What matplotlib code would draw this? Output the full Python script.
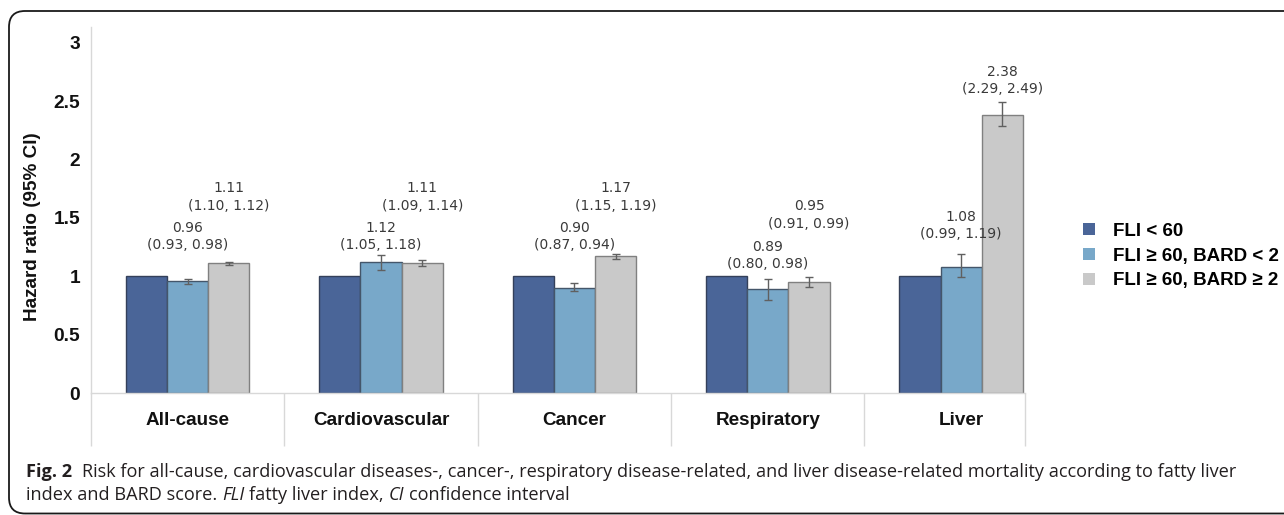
import matplotlib
matplotlib.use("Agg")
import matplotlib.pyplot as plt
import numpy as np
from matplotlib.patches import FancyBboxPatch, Patch
from matplotlib.transforms import IdentityTransform

CAUSES = ["All-cause", "Cardiovascular", "Cancer", "Respiratory", "Liver"]
GROUPS = ["FLI < 60", "FLI \u2265 60, BARD < 2", "FLI \u2265 60, BARD \u2265 2"]

# reference group
REF_HR = [1.00, 1.00, 1.00, 1.00, 1.00]

# FLI >= 60, BARD < 2
LOW_BARD_HR = [0.96, 1.12, 0.90, 0.89, 1.08]
LOW_BARD_LO = [0.93, 1.05, 0.87, 0.80, 0.99]
LOW_BARD_HI = [0.98, 1.18, 0.94, 0.98, 1.19]

# FLI >= 60, BARD >= 2
HIGH_BARD_HR = [1.11, 1.11, 1.17, 0.95, 2.38]
HIGH_BARD_LO = [1.10, 1.09, 1.15, 0.91, 2.29]
HIGH_BARD_HI = [1.12, 1.14, 1.19, 0.99, 2.49]

YTICKS = [0, 0.5, 1, 1.5, 2, 2.5, 3]
YTICK_LABELS = ["0", "0.5", "1", "1.5", "2", "2.5", "3"]

COLORS = ["#4a6598", "#78a8c9", "#c9c9c9"]
EDGES = ["#34405a", "#44566a", "#808080"]
AXIS_GREY = "#d8d8d8"

# where the value labels sit (HR units)
LOW_LABEL_Y = [1.34, 1.34, 1.34, 1.18, 1.435]
HIGH_LABEL_Y = [1.68, 1.68, 1.68, 1.525, 2.68]

W, H = 1284, 515
XMAX = 4.33

CAPTION_1 = ("Risk for all-cause, cardiovascular diseases-, cancer-, respiratory "
             "disease-related, and liver disease-related mortality according to fatty liver")


def ci_text(hr, lo, hi):
    return f"{hr:.2f}\n({lo:.2f}, {hi:.2f})"


def draw_runs(fig, x, y, runs, **kw):
    # lay out text pieces with different styles along one baseline
    r = fig.canvas.get_renderer()
    probe = fig.text(0, 0, "a a", fontsize=kw.get("fontsize"), family=kw.get("family"))
    probe2 = fig.text(0, 0, "aa", fontsize=kw.get("fontsize"), family=kw.get("family"))
    space = probe.get_window_extent(r).width - probe2.get_window_extent(r).width
    probe.remove()
    probe2.remove()
    for s, style, gap in runs:
        t = fig.text(x, y, s, transform=IdentityTransform(), va="baseline",
                     ha="left", **style, **kw)
        x += t.get_window_extent(r).width + gap * space


fig = plt.figure(figsize=(W / 100, H / 100), dpi=100)
ax = fig.add_axes([91 / W, (H - 393) / H, (1025 - 91) / W, (393 - 27) / H])

x = np.arange(len(CAUSES))
w = 0.213

ax.bar(x - w, REF_HR, w, color=COLORS[0], edgecolor=EDGES[0], linewidth=1)

low = np.array(LOW_BARD_HR)
ax.bar(x, low, w, color=COLORS[1], edgecolor=EDGES[1], linewidth=1,
       yerr=[low - np.array(LOW_BARD_LO), np.array(LOW_BARD_HI) - low],
       error_kw=dict(ecolor="#606060", elinewidth=1, capsize=3, capthick=1))

high = np.array(HIGH_BARD_HR)
ax.bar(x + w, high, w, color=COLORS[2], edgecolor=EDGES[2], linewidth=1,
       yerr=[high - np.array(HIGH_BARD_LO), np.array(HIGH_BARD_HI) - high],
       error_kw=dict(ecolor="#606060", elinewidth=1, capsize=3, capthick=1))

for i in range(len(CAUSES)):
    ax.text(x[i], LOW_LABEL_Y[i], ci_text(LOW_BARD_HR[i], LOW_BARD_LO[i], LOW_BARD_HI[i]),
            ha="center", va="center", fontsize=10, color="#3a3a3a", linespacing=1.3)
    ax.text(x[i] + w, HIGH_LABEL_Y[i], ci_text(HIGH_BARD_HR[i], HIGH_BARD_LO[i], HIGH_BARD_HI[i]),
            ha="center", va="center", fontsize=10, color="#3a3a3a", linespacing=1.3)

ax.set_xlim(-0.5, XMAX)
ax.set_ylim(0, 3.136)

for side in ["top", "right"]:
    ax.spines[side].set_visible(False)
for side in ["left", "bottom"]:
    ax.spines[side].set_color(AXIS_GREY)
    ax.spines[side].set_linewidth(1)

ax.set_yticks(YTICKS, labels=YTICK_LABELS)
ax.tick_params(axis="y", length=0, pad=8, labelsize=13.8)

ax.set_xticks(x, labels=CAUSES)
ax.set_xticks(list(np.arange(-0.5, len(CAUSES) - 1)) + [XMAX], minor=True)
ax.tick_params(axis="x", which="major", length=0, pad=14, labelsize=13.6)
ax.tick_params(axis="x", which="minor", length=38, width=1, color=AXIS_GREY)

for lab in ax.get_xticklabels() + ax.get_yticklabels():
    lab.set_family("Liberation Sans")
    lab.set_fontweight("bold")
    lab.set_color("#111111")

fig.text(33 / W, (H - 227) / H, "Hazard ratio (95% CI)", rotation=90,
         ha="center", va="center", fontsize=13.6, fontweight="bold",
         family="Liberation Sans", color="#111111")

handles = [Patch(facecolor=c, edgecolor="none") for c in COLORS]
fig.legend(handles, GROUPS, loc="center left",
           bbox_to_anchor=(1083 / W, (H - 256) / H), frameon=False,
           prop=dict(family="Liberation Sans", weight="bold", size=13.5),
           handlelength=0.65, handleheight=0.65, handletextpad=0.95,
           labelspacing=0.42, borderpad=0, borderaxespad=0)

# caption below the plot
cap = dict(fontsize=13.05, family="Open Sans", color="#231f20")
draw_runs(fig, 26, H - 477, [
    ("Fig. 2", dict(fontweight="bold"), 2),
    (CAPTION_1, {}, 0),
], **cap)
draw_runs(fig, 26, H - 500, [
    ("index and BARD score.", {}, 1),
    ("FLI", dict(style="italic"), 1),
    ("fatty liver index,", {}, 1),
    ("CI", dict(style="italic"), 1),
    ("confidence interval", {}, 0),
], **cap)

# rounded frame around the figure
frame = FancyBboxPatch((9, 1.5), 1320, H - 11 - 1.5,
                       boxstyle="round,pad=0,rounding_size=16",
                       transform=IdentityTransform(), facecolor="none",
                       edgecolor="#1a1a1a", linewidth=1.3, clip_on=False)
fig.add_artist(frame)

fig.savefig("out.png", dpi=100)
